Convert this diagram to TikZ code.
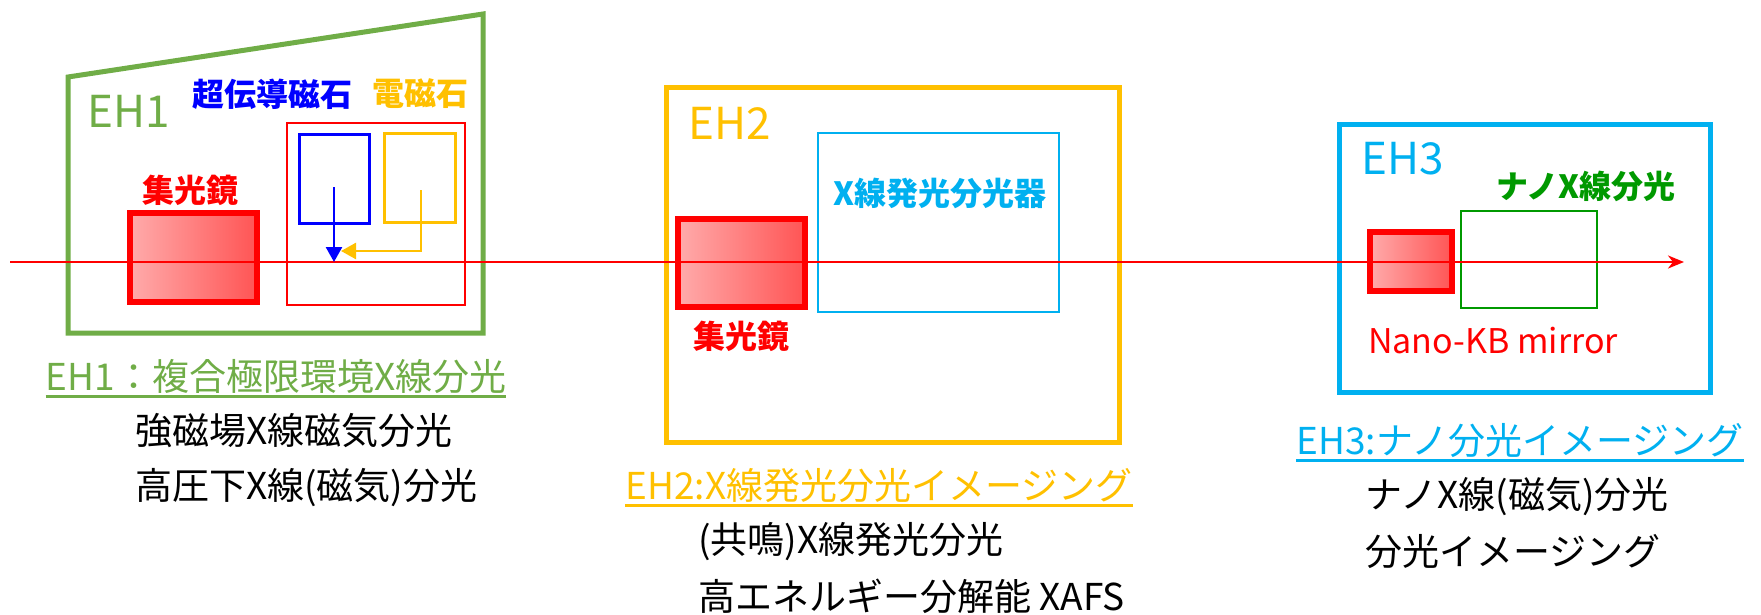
\documentclass[tikz,border=0pt]{standalone}
\usepackage{fontspec}
\setmainfont{Noto Sans CJK JP}
\usetikzlibrary{arrows.meta}
\definecolor{ehgreen}{HTML}{70AD47}
\definecolor{ehyellow}{HTML}{FFC000}
\definecolor{ehcyan}{HTML}{00B0F0}
\definecolor{nanogreen}{HTML}{009900}
\definecolor{pureblue}{HTML}{0000FF}
\definecolor{purered}{HTML}{FF0000}
\begin{document}
\begin{tikzpicture}[x=1pt,y=-1pt,
  hutch/.style={draw, line width=5pt, inner sep=0pt},
  thinbox/.style={draw, line width=2pt, inner sep=0pt},
  mirror/.style={draw=purered, line width=6pt, inner sep=0pt, left color=red!33!white, right color=red!67!white},
  biglabel/.style={font=\fontsize{44}{48}\selectfont, inner sep=0pt},
  smalllabel/.style={font=\fontsize{32}{36}\selectfont\bfseries, inner sep=0pt},
  titlelabel/.style={font=\fontsize{37}{40}\selectfont, inner sep=0pt},
  bodylabel/.style={font=\fontsize{37}{40}\selectfont, inner sep=0pt, anchor=west},
  beam/.style={draw=purered, line width=2.5pt},
  field/.style={line width=2.5pt, -{Triangle[length=15pt,width=16pt]}}
]
\useasboundingbox (0,0) rectangle (1761,615);

% EH1 hutch
\draw[ehgreen, line width=5pt] (68,77) -- (483,14) -- (483,333) -- (68,333) -- cycle;
\node[biglabel, text=ehgreen] (eh1lab) at (129,111) {EH1};
\node[smalllabel, text=pureblue] (sclab) at (272,94) {超伝導磁石};
\node[smalllabel, text=ehyellow] (emlab) at (420,94) {電磁石};
\node[thinbox, draw=purered, minimum width=178pt, minimum height=181pt] (magbox) at (375.5,214) {};
\node[draw=pureblue, line width=3pt, inner sep=0pt, minimum width=70pt, minimum height=89pt] (scbox) at (334.5,179) {};
\node[draw=ehyellow, line width=3pt, inner sep=0pt, minimum width=71pt, minimum height=88pt] (embox) at (419.5,178) {};
\node[mirror, minimum width=127pt, minimum height=89pt] (m1) at (193.5,257.5) {};
\node[smalllabel, text=purered] (m1lab) at (190,190) {集光鏡};

% EH2 hutch
\node[hutch, draw=ehyellow, minimum width=453pt, minimum height=354pt] (eh2) at (892.5,265) {};
\node[biglabel, text=ehyellow] (eh2lab) at (730,123) {EH2};
\node[thinbox, draw=ehcyan, minimum width=241pt, minimum height=179pt] (xes) at (938.5,222.5) {};
\node[smalllabel, text=ehcyan] (xeslab) at (940,193) {X線発光分光器};
\node[mirror, minimum width=127pt, minimum height=88pt] (m2) at (741.5,263) {};
\node[smalllabel, text=purered] (m2lab) at (741,336) {集光鏡};

% EH3 hutch
\node[hutch, draw=ehcyan, minimum width=371pt, minimum height=267pt] (eh3) at (1524.5,258.5) {};
\node[biglabel, text=ehcyan] (eh3lab) at (1403,159) {EH3};
\node[thinbox, draw=nanogreen, minimum width=136pt, minimum height=97pt] (nano) at (1528.5,259) {};
\node[smalllabel, text=nanogreen] (nanolab) at (1586,186) {ナノX線分光};
\node[mirror, minimum width=82pt, minimum height=59pt] (m3) at (1411,261.5) {};
\node[font=\fontsize{34}{38}\selectfont, inner sep=0pt, text=purered, anchor=base west] (m3lab) at (1368,353) {Nano-KB mirror};

% beam
\coordinate (beamstart) at (10,262);
\coordinate (beamend) at (1684,262);
\draw[beam, -{Stealth[length=16pt,width=13pt,inset=5pt]}] (beamstart) -- (beamend);

% field arrows
\coordinate (scfrom) at (334,187);
\coordinate (scto) at (334,262);
\coordinate (emfrom) at (421,190);
\coordinate (emcorner) at (421,251);
\coordinate (emto) at (341,251);
\draw[field, pureblue] (scfrom) -- (scto);
\draw[field, ehyellow] (emfrom) -- (emcorner) -- (emto);

% titles
\node[titlelabel, text=ehgreen] (t1) at (276,377) {EH1：複合極限環境X線分光};
\draw[ehgreen, line width=2.5pt] ([yshift=-2pt]t1.south west) -- ([yshift=-2pt]t1.south east);
\node[bodylabel] (b1a) at (135,431) {強磁場X線磁気分光};
\node[bodylabel] (b1b) at (135,488) {高圧下X線(磁気)分光};

\node[titlelabel, text=ehyellow] (t2) at (879,486) {EH2:X線発光分光イメージング};
\draw[ehyellow, line width=2.5pt] ([yshift=-2pt]t2.south west) -- ([yshift=-2pt]t2.south east);
\node[bodylabel] (b2a) at (698,542) {(共鳴)X線発光分光};
\node[bodylabel] (b2b) at (698,596) {高エネルギー分解能 XAFS};

\node[titlelabel, text=ehcyan] (t3) at (1520,441) {EH3:ナノ分光イメージング};
\draw[ehcyan, line width=2.5pt] ([yshift=-2pt]t3.south west) -- ([yshift=-2pt]t3.south east);
\node[bodylabel] (b3a) at (1365,497) {ナノX線(磁気)分光};
\node[bodylabel] (b3b) at (1365,552) {分光イメージング};
\end{tikzpicture}
\end{document}
